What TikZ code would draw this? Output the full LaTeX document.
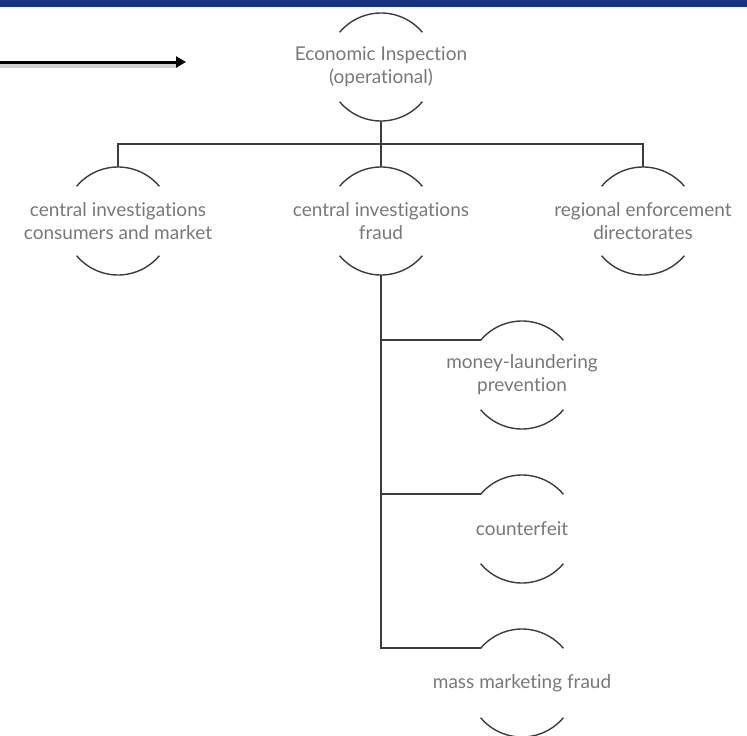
\documentclass[tikz,border=0pt]{standalone}
\usepackage{fontspec}
\setmainfont{Lato}[Ligatures=NoCommon]
\usetikzlibrary{arrows.meta,calc}
\definecolor{bannerblue}{RGB}{24,50,130}
\definecolor{textgray}{RGB}{120,120,120}
\definecolor{linegray}{RGB}{60,60,60}
\begin{document}
\begin{tikzpicture}
[x=1pt,y=-1pt,
  unitdecorate/.style={align=center,text=textgray,inner sep=0pt,
    font=\fontsize{19}{23}\selectfont},%
  arcdecorate/.style={draw=linegray,line width=1.4pt},%
  linkdecorate/.style={draw=linegray,line width=1.8pt},%
  arrowdecorate/.style={-{Triangle[length=10pt,width=11pt]},line width=3pt},%
  shadowdecorate/.style={draw=black!18,line width=5pt}]
\useasboundingbox (0,0) rectangle (747,736);
% banner
\fill[bannerblue] (0,0) rectangle (747,7);
% nodes or units
\node (top) at (381,67) [unitdecorate] {Economic Inspection\\(operational)};
\node (cons) at (118,221) [unitdecorate] {central investigations\\consumers and market};
\node (fraud) at (381,221) [unitdecorate] {central investigations\\fraud};
\node (regi) at (643,221) [unitdecorate] {regional enforcement\\directorates};
\node (laun) at (522,375) [unitdecorate] {money-laundering\\prevention};
\node (cfeit) at (522,529) [unitdecorate] {counterfeit};
\node (mass) at (522,683) [unitdecorate] {mass marketing fraud};
% arcs round the units
\foreach \n in {top,cons,fraud,regi,laun,cfeit,mass}{
  \draw[arcdecorate] ([shift={(140:54pt)}]\n.center) arc[start angle=140,end angle=40,radius=54pt];
  \draw[arcdecorate] ([shift={(220:54pt)}]\n.center) arc[start angle=220,end angle=320,radius=54pt];
  \coordinate (\n-n) at ([yshift=54pt]\n.center);
  \coordinate (\n-s) at ([yshift=-54pt]\n.center);
  \coordinate (\n-w) at ([shift={(140:54pt)}]\n.center);
}
% edges or lines
\coordinate (bus) at ($(top-s)+(0,23)$);
\draw[linkdecorate] (top-s) -- (bus);
\draw[linkdecorate] (cons-n) |- (regi-n |- bus) -- (regi-n);
\draw[linkdecorate] (fraud-n) -- (bus);
\draw[linkdecorate] (fraud-s) |- (mass-w);
\draw[linkdecorate] (fraud-s |- laun-w) -- (laun-w);
\draw[linkdecorate] (fraud-s |- cfeit-w) -- (cfeit-w);
% arrow
\coordinate (arrow-start) at (0,62);
\coordinate (arrow-end) at (186,62);
\draw[shadowdecorate] ([yshift=-3pt]arrow-start) -- ([shift={(-8pt,-3pt)}]arrow-end);
\draw[arrowdecorate] (arrow-start) -- (arrow-end);
\end{tikzpicture}
\end{document}
